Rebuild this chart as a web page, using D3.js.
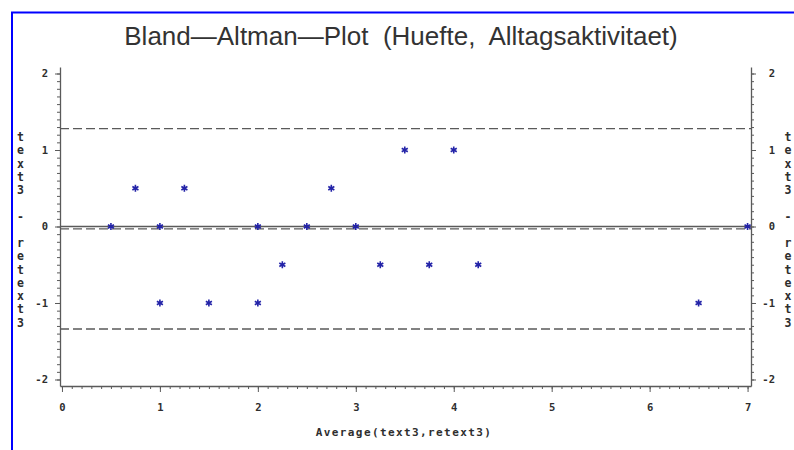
<!DOCTYPE html>
<html>
<head>
<meta charset="utf-8">
<script src="https://cdn.jsdelivr.net/npm/d3@7"></script>
<style>
  html, body { margin: 0; padding: 0; background: #fff; }
  svg { display: block; }
  .tick text, .lbl { font-family: "DejaVu Sans Mono", monospace; font-weight: bold; }
</style>
</head>
<body>
<svg id="chart" width="794" height="450"></svg>
<script>
// Bland-Altman data: mean of the two measurements vs. their difference
const averages    = [0.5, 0.75, 1, 1, 1.25, 1.5, 2, 2, 2.25, 2.5, 2.75, 3, 3.25, 3.5, 3.75, 4, 4.25, 6.5, 7];
const differences = [0, 0.5, 0, -1, 0.5, -1, 0, -1, -0.5, 0, 0.5, 0, -0.5, 1, -0.5, 1, -0.5, -1, 0];

// Reference lines: mean difference and limits of agreement
const meanDiff = -0.03;
const limits = [-1.34, 1.28];

const xTickValues = [0, 1, 2, 3, 4, 5, 6, 7];
const xTickLabels = ["0", "1", "2", "3", "4", "5", "6", "7"];
const yTickValues = [-2, -1, 0, 1, 2];
const yTickLabels = ["-2", "-1", "0", "1", "2"];

const titleText = "Bland\u2014Altman\u2014Plot  (Huefte,  Alltagsaktivitaet)";
const xLabel = "Average(text3,retext3)";
const yLabel = "text3 - retext3";

const svg = d3.select("#chart");
const axisColor = "#5a5a5a";
const textColor = "#2e2e2e";

// outer frame
svg.append("rect")
  .attr("x", 12).attr("y", 12.5)
  .attr("width", 800).attr("height", 500)
  .attr("fill", "none").attr("stroke", "#0000ff").attr("stroke-width", 2);

const plotLeft = 60, plotRight = 751, plotTop = 67, plotBottom = 386;

const x = d3.scaleLinear().domain([-0.02, 7.035]).range([plotLeft, plotRight]);
const y = d3.scaleLinear().domain([-2.085, 2.085]).range([plotBottom, plotTop]);

// title
svg.append("text")
  .attr("x", 401).attr("y", 45)
  .attr("text-anchor", "middle")
  .style("white-space", "pre")
  .attr("font-family", "'Liberation Sans', Arial, sans-serif")
  .attr("font-size", 26)
  .attr("fill", "#333")
  .text(titleText);

const minorX = d3.range(0, 70.5, 1).map(d => d / 10);
const minorY = d3.range(-20, 20.5, 1).map(d => d / 10);

function styleAxis(g) {
  g.selectAll("path.domain").attr("stroke", axisColor).attr("stroke-width", 1.3);
  g.selectAll(".tick line").attr("stroke", axisColor).attr("stroke-width", 1);
  g.selectAll(".tick text").attr("fill", textColor).attr("font-size", 10.5);
}

// x axis (minor + major)
svg.append("g").attr("transform", `translate(0,${plotBottom})`)
  .call(d3.axisBottom(x).tickValues(minorX).tickSize(3).tickSizeOuter(0).tickFormat(""))
  .call(styleAxis);
svg.append("g").attr("transform", `translate(0,${plotBottom})`)
  .call(d3.axisBottom(x).tickValues(xTickValues).tickSize(6).tickSizeOuter(0)
    .tickPadding(12).tickFormat((d, i) => xTickLabels[i]))
  .call(styleAxis)
  .call(g => g.select("path.domain").remove());

// left y axis
svg.append("g").attr("transform", `translate(${plotLeft},0)`)
  .call(d3.axisLeft(y).tickValues(minorY).tickSize(3).tickSizeOuter(0).tickFormat(""))
  .call(styleAxis);
svg.append("g").attr("transform", `translate(${plotLeft},0)`)
  .call(d3.axisLeft(y).tickValues(yTickValues).tickSize(5).tickSizeOuter(0)
    .tickPadding(7).tickFormat((d, i) => yTickLabels[i]))
  .call(styleAxis)
  .call(g => g.select("path.domain").remove());

// right y axis
svg.append("g").attr("transform", `translate(${plotRight},0)`)
  .call(d3.axisRight(y).tickValues(minorY).tickSize(3).tickSizeOuter(0).tickFormat(""))
  .call(styleAxis);
const rightMajor = svg.append("g").attr("transform", `translate(${plotRight},0)`)
  .call(d3.axisRight(y).tickValues(yTickValues).tickSize(5).tickSizeOuter(0)
    .tickPadding(7).tickFormat((d, i) => yTickLabels[i]))
  .call(styleAxis)
  .call(g => g.select("path.domain").remove());
rightMajor.selectAll(".tick text").attr("text-anchor", "end").attr("x", 24);

// x axis title
svg.append("text").attr("class", "lbl")
  .attr("x", 404).attr("y", 436)
  .attr("text-anchor", "middle")
  .attr("font-size", 11)
  .attr("letter-spacing", 1.4)
  .attr("fill", textColor)
  .text(xLabel);

// stacked vertical y titles on both sides
[20.5, 788].forEach(cx => {
  svg.append("g").selectAll("text")
    .data(yLabel.split(""))
    .join("text").attr("class", "lbl")
    .attr("x", cx)
    .attr("y", (d, i) => 141 + i * 13.25)
    .attr("text-anchor", "middle")
    .attr("font-size", 11.5)
    .attr("fill", textColor)
    .text(d => d);
});

// zero line
svg.append("line")
  .attr("x1", plotLeft).attr("x2", plotRight)
  .attr("y1", y(0)).attr("y2", y(0))
  .attr("stroke", axisColor).attr("stroke-width", 1.3);

// mean difference and limits of agreement (dashed)
svg.append("g").selectAll("line")
  .data([meanDiff, ...limits])
  .join("line")
  .attr("x1", plotLeft).attr("x2", plotRight)
  .attr("y1", d => y(d)).attr("y2", d => y(d))
  .attr("stroke", axisColor).attr("stroke-width", 1.3)
  .attr("stroke-dasharray", "9,4");

// observations
const star = d3.symbol().type(d3.symbolAsterisk).size(34);
svg.append("g").selectAll("path")
  .data(averages.map((a, i) => [a, differences[i]]))
  .join("path")
  .attr("transform", d => `translate(${x(d[0])},${y(d[1])})`)
  .attr("d", star)
  .attr("fill", "none")
  .attr("stroke", "#2323a8")
  .attr("stroke-width", 1.6);
</script>
</body>
</html>
